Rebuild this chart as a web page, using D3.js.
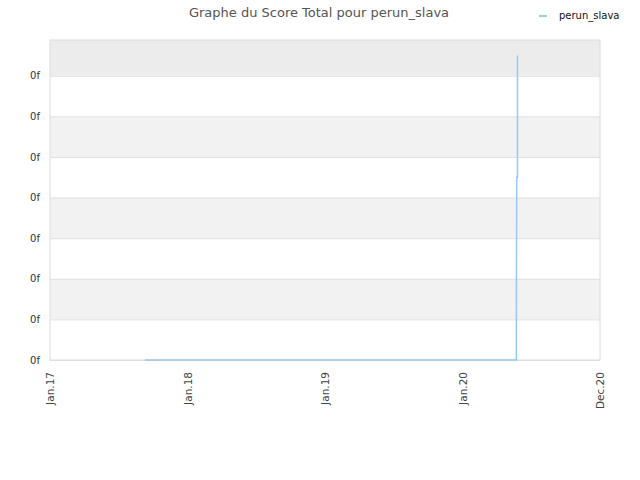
<!DOCTYPE html>
<html>
<head>
<meta charset="utf-8">
<script src="https://cdn.jsdelivr.net/npm/d3@7"></script>
<style>
  body { margin: 0; background: #fff; }
  svg { font-family: "DejaVu Sans", Verdana, sans-serif; }
</style>
</head>
<body>
<script>
// score history for perun_slava
const dates = ['2017-09-10', '2020-05-23', '2020-05-23', '2020-05-24', '2020-05-26', '2020-05-26'];
const scores = [0, 0, 1500, 4500, 4500, 7500];
const yTicks = [0, 1000, 2000, 3000, 4000, 5000, 6000, 7000];
const xTickDates = ['2017-01-01', '2018-01-01', '2019-01-01', '2020-01-01', '2020-12-31'];
const xTickLabels = ['Jan.17', 'Jan.18', 'Jan.19', 'Jan.20', 'Dec.20'];

const parse = d3.timeParse('%Y-%m-%d');
const points = dates.map((d, i) => ({date: parse(d), score: scores[i]}));

const width = 640;
const height = 480;
const margin = ({top: 40, right: 40, bottom: 120, left: 50});

const xScale = d3.scaleTime()
  .domain([parse('2017-01-01'), parse('2020-12-31')])
  .range([margin.left, width - margin.right]);

const yScale = d3.scaleLinear()
  .domain([0, 7880])
  .range([height - margin.bottom, margin.top]);

const svg = d3.select('body')
  .append('svg')
  .attr('width', width)
  .attr('height', height);

// alternating bands between grid lines
const bandEdges = yTicks.concat([yScale.domain()[1]]);
svg.append('g')
  .selectAll('rect')
  .data(d3.pairs(bandEdges))
  .join('rect')
  .attr('x', margin.left)
  .attr('width', width - margin.left - margin.right)
  .attr('y', d => yScale(d[1]))
  .attr('height', d => yScale(d[0]) - yScale(d[1]))
  .attr('fill', (d, i) => i === yTicks.length - 1 ? '#ececec' : (i % 2 ? '#f2f2f2' : '#ffffff'));

// Y axis with grid lines
const yAxis = d3.axisLeft(yScale)
  .tickValues(yTicks)
  .tickSize(-(width - margin.left - margin.right))
  .tickPadding(10)
  .tickFormat(d => '0f');

svg.append('g')
  .attr('transform', `translate(${margin.left},0)`)
  .call(yAxis)
  .call(g => g.select('.domain').remove())
  .call(g => g.selectAll('line').attr('stroke', '#e0e0e0'))
  .call(g => g.selectAll('text')
    .attr('fill', '#333')
    .attr('font-size', 10)
    .attr('font-family', '"DejaVu Sans", sans-serif'));

// plot border
svg.append('rect')
  .attr('x', margin.left)
  .attr('y', margin.top)
  .attr('width', width - margin.left - margin.right)
  .attr('height', height - margin.top - margin.bottom)
  .attr('fill', 'none')
  .attr('stroke', '#dcdcdc');

// X axis
const xAxis = d3.axisBottom(xScale)
  .tickValues(xTickDates.map(parse))
  .tickSize(0)
  .tickPadding(0)
  .tickFormat((d, i) => xTickLabels[i]);

svg.append('g')
  .attr('transform', `translate(0, ${height - margin.bottom})`)
  .call(xAxis)
  .call(g => g.select('.domain').remove())
  .selectAll('text')
  .attr('fill', '#444')
  .attr('font-size', 10.5)
  .attr('font-family', '"DejaVu Sans", sans-serif')
  .style('text-anchor', 'end')
  .attr('dx', '-12')
  .attr('dy', '0.35em')
  .attr('y', 0)
  .attr('transform', 'rotate(-90)');

// the score line
const line = d3.line()
  .x(d => xScale(d.date))
  .y(d => yScale(d.score));

svg.append('path')
  .datum(points)
  .attr('fill', 'none')
  .attr('stroke', '#99c8f5')
  .attr('stroke-width', 1.5)
  .attr('d', line);

// title
svg.append('text')
  .attr('x', 319)
  .attr('y', 17)
  .attr('text-anchor', 'middle')
  .attr('font-size', 13)
  .attr('fill', '#555')
  .text('Graphe du Score Total pour perun_slava');

// legend
svg.append('line')
  .attr('x1', 539).attr('x2', 547)
  .attr('y1', 16).attr('y2', 16)
  .attr('stroke', '#99c8f5')
  .attr('stroke-width', 2);

svg.append('text')
  .attr('x', 559)
  .attr('y', 19)
  .attr('font-size', 10)
  .attr('fill', '#111')
  .text('perun_slava');
</script>
</body>
</html>
